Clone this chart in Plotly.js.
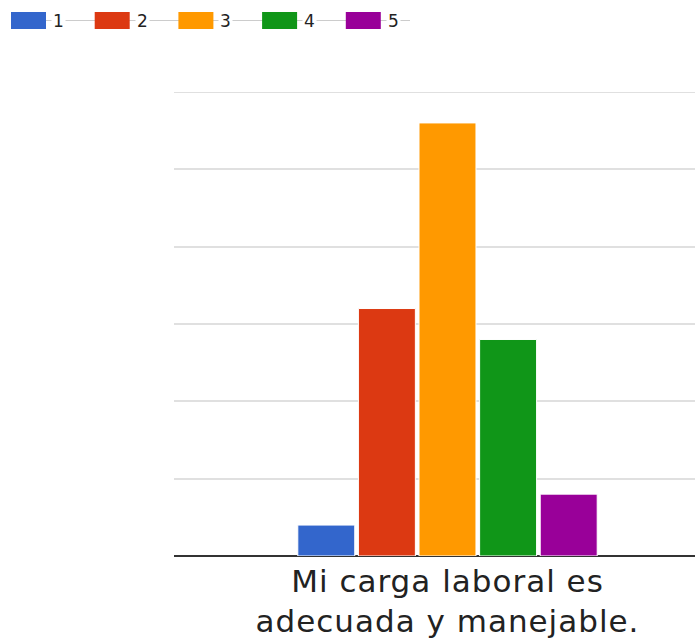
<!DOCTYPE html>
<html>
<head>
<meta charset="utf-8">
<script src="https://cdn.plot.ly/plotly-3.0.1.min.js"></script>
<style>
  html, body { margin: 0; padding: 0; background: #fff; }
  #chart { width: 695px; height: 640px; }
  .xtick text { letter-spacing: 1px; }
</style>
</head>
<body>
<div id="chart"></div>
<script>
// ---- data ----
const categories = ["Mi carga laboral es<br>adecuada y manejable."];
const seriesNames = ["1", "2", "3", "4", "5"];
const seriesValues = [[2], [16], [28], [14], [4]];
const seriesColors = ["#3366cc", "#dc3912", "#ff9900", "#109618", "#990099"];
const yTickValues = [0, 5, 10, 15, 20, 25, 30];

// ---- layout constants (pixels) ----
const W = 695, H = 640;
const M = { l: 174, r: 0, t: 92, b: 84 };
const plotW = W - M.l - M.r, plotH = H - M.t - M.b;
const px2x = p => (p - M.l) / plotW;
const py2y = p => (H - M.b - p) / plotH;

const traces = seriesNames.map((name, i) => ({
  type: "bar",
  name: name,
  x: categories,
  y: seriesValues[i],
  marker: { color: seriesColors[i], line: { color: "#ffffff", width: 1 } },
  hoverinfo: "none",
  showlegend: false
}));

// top gridline (at the edge of the range)
const shapes = [{
  type: "line", xref: "paper", yref: "y",
  x0: 0, x1: 1, y0: yTickValues[yTickValues.length - 1], y1: yTickValues[yTickValues.length - 1],
  line: { color: "#e0e0e0", width: 2 }, layer: "below"
}];

// manual legend (Google-Charts style)
const legY = 20.5, swW = 35, swH = 17, legStart = 11, legStep = 83.7;
shapes.push({
  type: "line", xref: "paper", yref: "paper",
  x0: px2x(legStart + swW), x1: px2x(410), y0: py2y(legY), y1: py2y(legY),
  line: { color: "#cccccc", width: 1 }
});
const annotations = [];
seriesNames.forEach((name, i) => {
  const x0 = legStart + i * legStep;
  shapes.push({
    type: "rect", xref: "paper", yref: "paper",
    x0: px2x(x0), x1: px2x(x0 + swW),
    y0: py2y(legY - swH / 2), y1: py2y(legY + swH / 2),
    fillcolor: seriesColors[i], line: { width: 0 }
  });
  annotations.push({
    xref: "paper", yref: "paper",
    x: px2x(x0 + swW + 5), y: py2y(legY),
    xanchor: "left", yanchor: "middle",
    text: name, showarrow: false,
    bgcolor: "#ffffff", borderpad: 1,
    font: { family: "DejaVu Sans, sans-serif", size: 17, color: "#222222" }
  });
});

const layout = {
  width: W, height: H,
  margin: M,
  paper_bgcolor: "#ffffff", plot_bgcolor: "#ffffff",
  barmode: "group",
  bargap: 0.446,
  bargroupgap: 0.06,
  showlegend: false,
  xaxis: {
    type: "category",
    range: [-0.5, 0.4525],
    showgrid: false, zeroline: false,
    showline: false,
    ticks: "", ticklen: 0,
    ticklabelstandoff: 4,
    tickfont: { family: "DejaVu Sans, sans-serif", size: 31, color: "#222222" },
    fixedrange: true
  },
  yaxis: {
    range: [0, 30],
    tickvals: yTickValues,
    showticklabels: false,
    showgrid: true, gridcolor: "#e0e0e0", gridwidth: 2,
    zeroline: true, zerolinecolor: "#333333", zerolinewidth: 2,
    showline: false,
    fixedrange: true
  },
  shapes: shapes,
  annotations: annotations
};

Plotly.newPlot("chart", traces, layout, { displayModeBar: false, staticPlot: true });
</script>
</body>
</html>
